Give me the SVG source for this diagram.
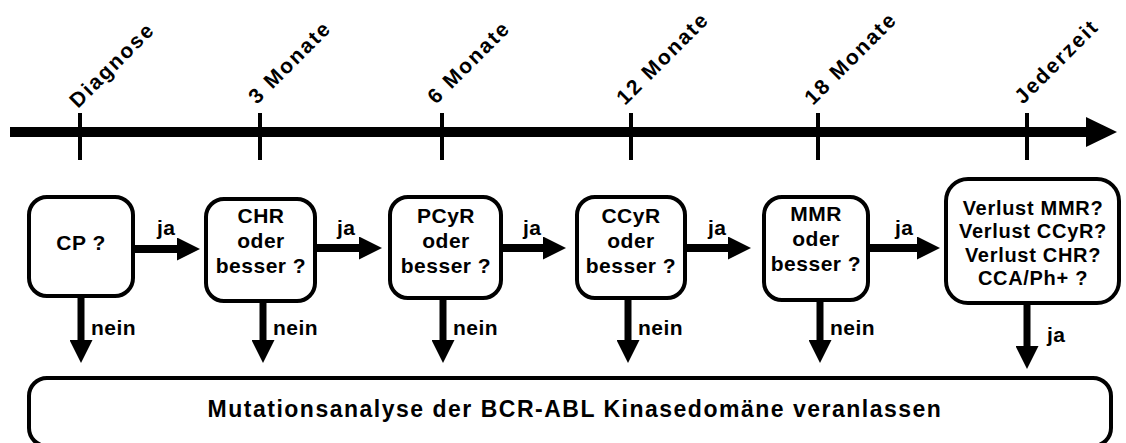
<svg xmlns="http://www.w3.org/2000/svg" width="1126" height="443" viewBox="0 0 1126 443">
<style>
.box{fill:#fff;stroke:#000;stroke-width:4}
.t{font-family:"Liberation Sans",Arial,sans-serif;font-weight:bold;font-size:21px;letter-spacing:0.5px;fill:#000}
.t6{font-family:"Liberation Sans",Arial,sans-serif;font-weight:bold;font-size:20px;letter-spacing:0.7px;fill:#000;text-anchor:middle}
.c{text-anchor:middle}
.lab{font-family:"Liberation Sans",Arial,sans-serif;font-weight:bold;font-size:21px;letter-spacing:2px;fill:#000}
.big{font-family:"Liberation Sans",Arial,sans-serif;font-weight:bold;font-size:23px;letter-spacing:1.5px;fill:#000;text-anchor:middle}
.sh{stroke:#000;stroke-width:8;fill:none}
.sv{stroke:#000;stroke-width:7;fill:none}
.tick{stroke:#000;stroke-width:4}
</style>
<defs>
<marker id="ah" markerUnits="userSpaceOnUse" viewBox="0 0 23 23" refX="0" refY="11.5" markerWidth="23" markerHeight="23" orient="auto">
<polygon points="0,0 23,11.5 0,23" fill="#000"/>
</marker>
</defs>
<g id="timeline">
<line x1="10" y1="132" x2="1087" y2="132" stroke="#000" stroke-width="10"/>
<polygon points="1086,117 1117,132 1086,147" fill="#000"/>
<line class="tick" x1="80" y1="113" x2="80" y2="160"/>
<line class="tick" x1="260" y1="113" x2="260" y2="160"/>
<line class="tick" x1="442" y1="113" x2="442" y2="160"/>
<line class="tick" x1="631" y1="113" x2="631" y2="160"/>
<line class="tick" x1="818" y1="113" x2="818" y2="160"/>
<line class="tick" x1="1027" y1="113" x2="1027" y2="160"/>
<text class="lab" x="78" y="109" transform="rotate(-45 78 109)">Diagnose</text>
<text class="lab" x="257" y="105" transform="rotate(-45 257 105)">3 Monate</text>
<text class="lab" x="436" y="105" transform="rotate(-45 436 105)">6 Monate</text>
<text class="lab" x="625" y="106" transform="rotate(-45 625 106)">12 Monate</text>
<text class="lab" x="813" y="106" transform="rotate(-45 813 106)">18 Monate</text>
<text class="lab" x="1023" y="105" transform="rotate(-45 1023 105)">Jederzeit</text>
</g>
<g id="n1">
<rect class="box" x="29" y="197" width="104" height="99" rx="18"/>
<text class="t c" x="81" y="250">CP ?</text>
</g>
<g id="n2">
<rect class="box" x="206" y="199" width="109" height="102" rx="18"/>
<text class="t c" x="261" y="223">CHR</text>
<text class="t c" x="261" y="248">oder</text>
<text class="t c" x="261" y="273">besser ?</text>
</g>
<g id="n3">
<rect class="box" x="390" y="197" width="111" height="101" rx="18"/>
<text class="t c" x="446" y="223">PCyR</text>
<text class="t c" x="446" y="248">oder</text>
<text class="t c" x="446" y="273">besser ?</text>
</g>
<g id="n4">
<rect class="box" x="577" y="197" width="108" height="101" rx="18"/>
<text class="t c" x="631" y="223">CCyR</text>
<text class="t c" x="631" y="248">oder</text>
<text class="t c" x="631" y="273">besser ?</text>
</g>
<g id="n5">
<rect class="box" x="764" y="197" width="104" height="103" rx="18"/>
<text class="t c" x="816" y="221">MMR</text>
<text class="t c" x="816" y="246">oder</text>
<text class="t c" x="816" y="271">besser ?</text>
</g>
<g id="n6">
<rect class="box" x="946" y="179" width="173" height="124" rx="22"/>
<text class="t6" x="1033" y="215">Verlust MMR?</text>
<text class="t6" x="1033" y="238">Verlust CCyR?</text>
<text class="t6" x="1033" y="262">Verlust CHR?</text>
<text class="t6" x="1033" y="285">CCA/Ph+ ?</text>
</g>
<g id="n7">
<rect class="box" x="29" y="378" width="1082" height="68" rx="18"/>
<text class="big" x="575" y="417">Mutationsanalyse der BCR-ABL Kinasedomäne veranlassen</text>
</g>
<g id="connectors">
<line class="sh" x1="135" y1="249" x2="177" y2="249" marker-end="url(#ah)"/>
<line class="sh" x1="317" y1="248" x2="359" y2="248" marker-end="url(#ah)"/>
<line class="sh" x1="503" y1="248" x2="543" y2="248" marker-end="url(#ah)"/>
<line class="sh" x1="687" y1="248" x2="728" y2="248" marker-end="url(#ah)"/>
<line class="sh" x1="870" y1="248" x2="917" y2="248" marker-end="url(#ah)"/>
<line class="sv" x1="81" y1="298" x2="81" y2="340" marker-end="url(#ah)"/>
<line class="sv" x1="263" y1="303" x2="263" y2="340" marker-end="url(#ah)"/>
<line class="sv" x1="443" y1="300" x2="443" y2="340" marker-end="url(#ah)"/>
<line class="sv" x1="628" y1="300" x2="628" y2="340" marker-end="url(#ah)"/>
<line class="sv" x1="820" y1="302" x2="820" y2="340" marker-end="url(#ah)"/>
<line class="sv" x1="1027" y1="305" x2="1027" y2="346" marker-end="url(#ah)"/>
<text class="t" x="157" y="235">ja</text>
<text class="t" x="337" y="235">ja</text>
<text class="t" x="523" y="235">ja</text>
<text class="t" x="708" y="235">ja</text>
<text class="t" x="895" y="235">ja</text>
<text class="t" x="91" y="335">nein</text>
<text class="t" x="273" y="335">nein</text>
<text class="t" x="453" y="335">nein</text>
<text class="t" x="638" y="335">nein</text>
<text class="t" x="830" y="335">nein</text>
<text class="t" x="1047" y="342">ja</text>
</g>
</svg>
